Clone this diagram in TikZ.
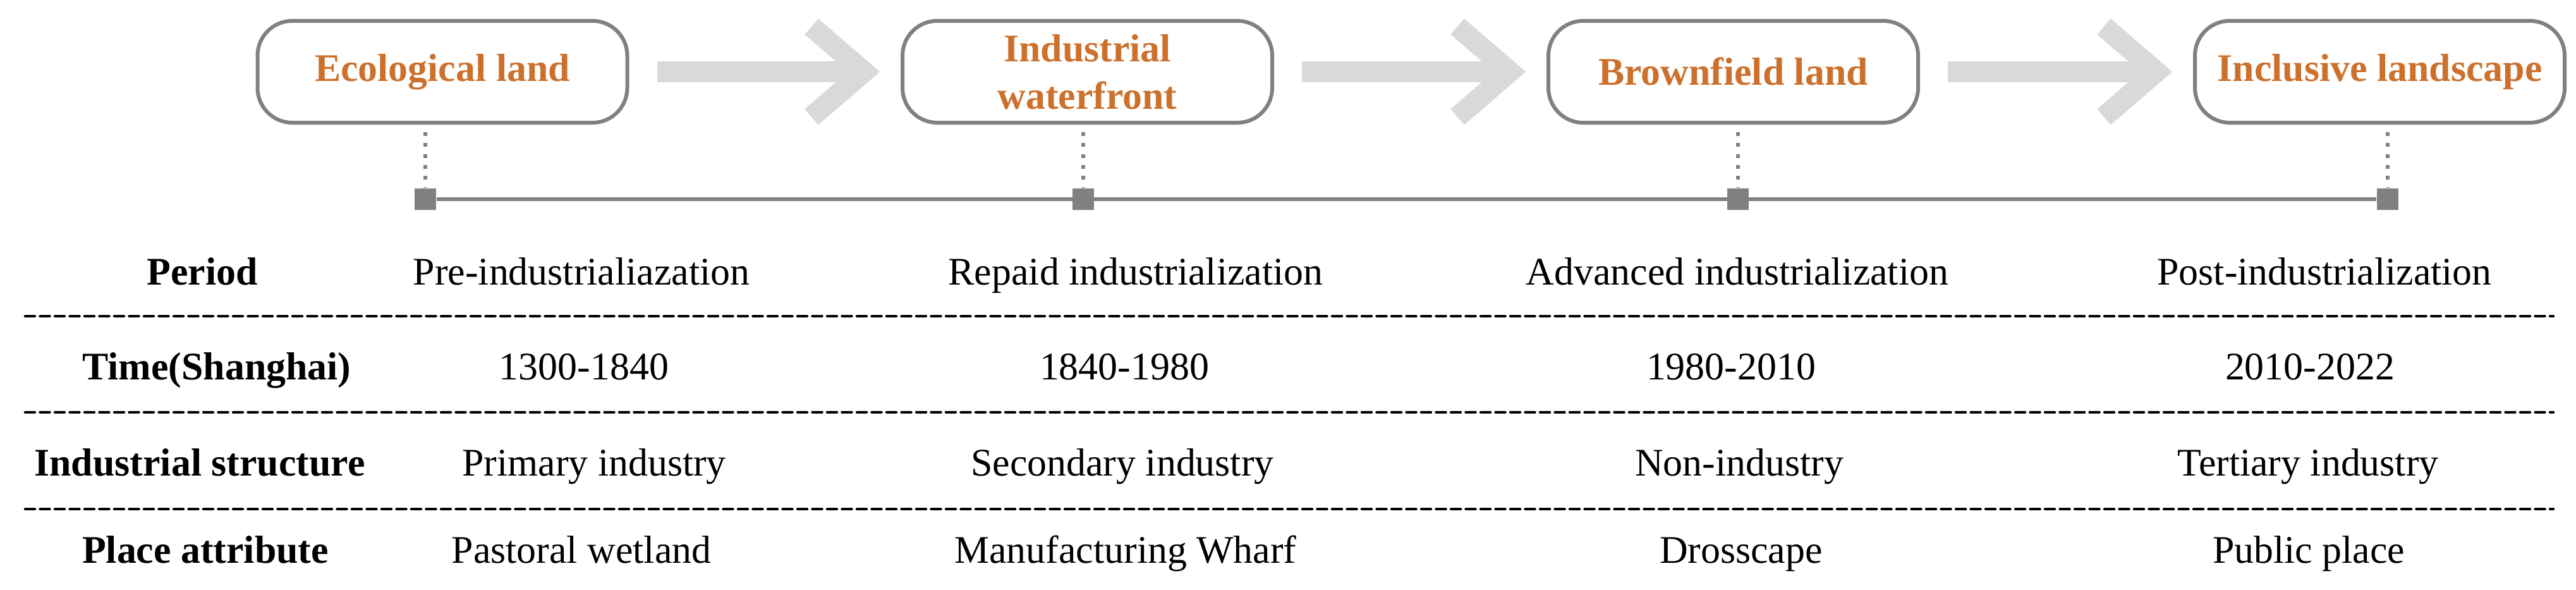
\documentclass[tikz,border=0pt]{standalone}
\usepackage{fontspec}
\setmainfont{Liberation Serif}
\usetikzlibrary{calc}
\definecolor{linegray}{RGB}{128,128,128}
\definecolor{arrowgray}{RGB}{217,217,217}
\definecolor{landorange}{RGB}{204,112,44}
\begin{document}
\begin{tikzpicture}[every node/.style={font=\fontsize{17.6}{21.3}\selectfont},
    stage/.style={draw=linegray, line width=0.06cm, rounded corners=0.55cm,
                  minimum width=5.85cm, minimum height=1.61cm, align=center,
                  text=landorange, font=\fontsize{17.6}{21.3}\selectfont\bfseries},
    marksq/.style={fill=linegray, minimum size=0.34cm, inner sep=0pt},
    dotline/.style={linegray, line width=0.06cm, dash pattern=on 0.06cm off 0.113cm},
    timeline/.style={linegray, line width=0.06cm},
    bigarrow/.style={arrowgray, line width=0.33cm, line join=miter},
    rowline/.style={line width=0.045cm, line cap=round, dash pattern=on 0.15cm off 0.085cm},
    rowhead/.style={anchor=base, font=\fontsize{17.6}{21.3}\selectfont\bfseries},
    rowcell/.style={anchor=base}]
  \useasboundingbox (0,0) rectangle (40.76,-9.32);
  % stages
  \node[stage] (e1) at (7.00,-1.135) {Ecological land};
  \node[stage] (e2) at (17.205,-1.135) {Industrial\\waterfront};
  \node[stage] (e3) at (27.425,-1.135) {Brownfield land};
  \node[stage] (e4) at (37.655,-1.135) {Inclusive landscape};
  % arrows between stages
  \coordinate (a1) at ($(e1.east)+(0.44,0)$);
  \coordinate (b1) at ($(e2.west)+(-0.33,0)$);
  \coordinate (a2) at ($(e2.east)+(0.44,0)$);
  \coordinate (b2) at ($(e3.west)+(-0.33,0)$);
  \coordinate (a3) at ($(e3.east)+(0.44,0)$);
  \coordinate (b3) at ($(e4.west)+(-0.33,0)$);
  \draw[bigarrow] (a1) -- ($(b1)+(-0.25,0)$);
  \draw[bigarrow] ($(b1)+(-1.08,0.715)$) -- ($(b1)+(-0.25,0)$) -- ($(b1)+(-1.08,-0.715)$);
  \draw[bigarrow] (a2) -- ($(b2)+(-0.25,0)$);
  \draw[bigarrow] ($(b2)+(-1.08,0.715)$) -- ($(b2)+(-0.25,0)$) -- ($(b2)+(-1.08,-0.715)$);
  \draw[bigarrow] (a3) -- ($(b3)+(-0.25,0)$);
  \draw[bigarrow] ($(b3)+(-1.08,0.715)$) -- ($(b3)+(-0.25,0)$) -- ($(b3)+(-1.08,-0.715)$);
  % timeline
  \node[marksq] (m1) at (6.73,-3.15) {};
  \node[marksq] (m2) at (17.14,-3.15) {};
  \node[marksq] (m3) at (27.50,-3.15) {};
  \node[marksq] (m4) at (37.78,-3.15) {};
  \draw[timeline] (m1) -- (m4);
  \draw[dotline] ($(m1 |- e1.south)+(0,-0.12)$) -- (m1.north);
  \draw[dotline] ($(m2 |- e2.south)+(0,-0.12)$) -- (m2.north);
  \draw[dotline] ($(m3 |- e3.south)+(0,-0.12)$) -- (m3.north);
  \draw[dotline] ($(m4 |- e4.south)+(0,-0.12)$) -- (m4.north);
  % table
  \node[rowhead] (period) at (3.20,-4.50) {Period};
  \node[rowcell] (per1) at (9.20,-4.50) {Pre-industrialiazation};
  \node[rowcell] (per2) at (17.97,-4.50) {Repaid industrialization};
  \node[rowcell] (per3) at (27.49,-4.50) {Advanced industrialization};
  \node[rowcell] (per4) at (36.78,-4.50) {Post-industrialization};
  \draw[rowline] (0.40,-5.00) -- (40.40,-5.00);
  \node[rowhead] (time) at (3.43,-6.00) {Time(Shanghai)};
  \node[rowcell] (tim1) at (9.24,-6.00) {1300-1840};
  \node[rowcell] (tim2) at (17.79,-6.00) {1840-1980};
  \node[rowcell] (tim3) at (27.39,-6.00) {1980-2010};
  \node[rowcell] (tim4) at (36.55,-6.00) {2010-2022};
  \draw[rowline] (0.40,-6.52) -- (40.40,-6.52);
  \node[rowhead] (struct) at (3.16,-7.52) {Industrial structure};
  \node[rowcell] (ind1) at (9.40,-7.52) {Primary industry};
  \node[rowcell] (ind2) at (17.76,-7.52) {Secondary industry};
  \node[rowcell] (ind3) at (27.52,-7.52) {Non-industry};
  \node[rowcell] (ind4) at (36.52,-7.52) {Tertiary industry};
  \draw[rowline] (0.40,-8.05) -- (40.40,-8.05);
  \node[rowhead] (place) at (3.25,-8.90) {Place attribute};
  \node[rowcell] (pla1) at (9.20,-8.90) {Pastoral wetland};
  \node[rowcell] (pla2) at (17.81,-8.90) {Manufacturing Wharf};
  \node[rowcell] (pla3) at (27.55,-8.90) {Drosscape};
  \node[rowcell] (pla4) at (36.53,-8.90) {Public place};
\end{tikzpicture}
\end{document}
